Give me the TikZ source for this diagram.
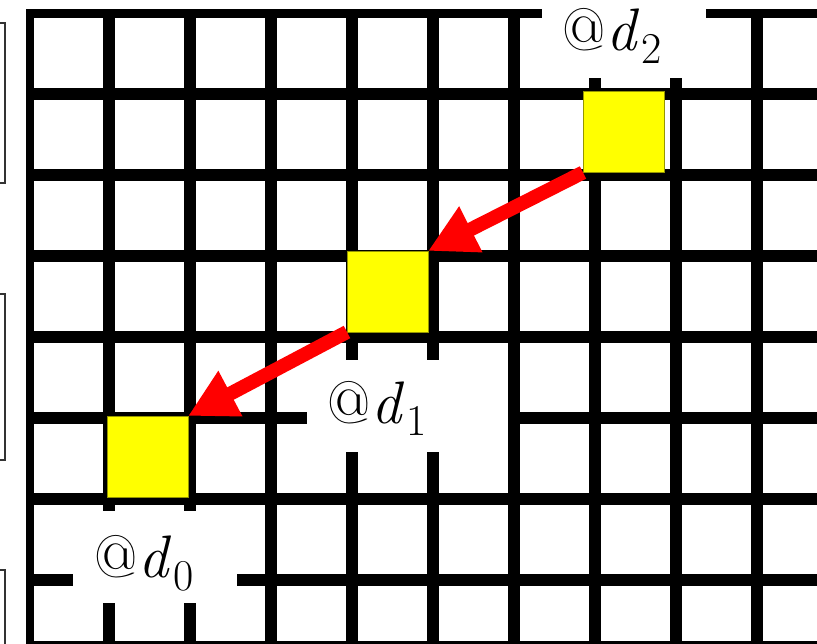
\documentclass[tikz,border=0pt]{standalone}
\usetikzlibrary{arrows.meta}
\definecolor{ylw}{RGB}{255,255,0}
\definecolor{ylwedge}{RGB}{150,150,0}
\definecolor{rd}{RGB}{255,0,0}
\newcommand{\lblat}[1]{@\kern1pt\textit{d}\kern2pt\raisebox{-13pt}{\fontsize{44}{48}\selectfont #1}}
\begin{document}
\begin{tikzpicture}[x=1pt,y=-1pt,
  gridline/.style={line width=11.5pt,black},
  borderv/.style={line width=8pt,black},
  borderh/.style={line width=9pt,black},
  labelbox/.style={fill=white,draw=none},
  cell/.style={draw=ylwedge,line width=0.8pt,fill=ylw,minimum size=81pt,inner sep=0pt,outer sep=0pt},
  move/.style={draw=rd,line width=14pt,-{Triangle[length=48pt,width=48pt]}},
  lbl/.style={anchor=base west,inner sep=0pt,font=\fontsize{60}{66}\selectfont},
  side/.style={draw=black!80,line width=1.2pt}
]
\useasboundingbox (0,0) rectangle (817,644);
% left partial boxes
\draw[side] (-20,23) rectangle (5,183);
\draw[side] (-20,294) rectangle (5,460);
\draw[side] (-20,570) rectangle (5,680);
% grid
\draw[borderv] (30,9.3) -- (30,644);
\draw[borderh] (26,13.8) -- (817,13.8);
\foreach \k in {1,...,9} {
  \draw[gridline] ({28.2+81*\k},9.3) -- ({28.2+81*\k},644);
}
\foreach \j in {1,...,7} {
  \draw[gridline] (26,{12.8+81*\j}) -- (817,{12.8+81*\j});
}
\draw[gridline] (26,647) -- (817,647);
% white label boxes
\fill[labelbox] (542,-14) rectangle (706,78);
\fill[labelbox] (307,360) rectangle (508,452);
\fill[labelbox] (73,511) rectangle (237,603);
% yellow cells
\node[cell] (c2) at (623.5,132) {};
\node[cell] (c1) at (387.5,291.5) {};
\node[cell] (c0) at (147.5,456.5) {};
% arrows
\draw[move] (c2.south west) -- (c1.north east);
\draw[move] (c1.south west) -- (c0.north east);
% labels
\node[lbl] (l2) at (562,51) {\lblat{2}};
\node[lbl] (l1) at (327,423) {\lblat{1}};
\node[lbl] (l0) at (94,577) {\lblat{0}};
\end{tikzpicture}
\end{document}
